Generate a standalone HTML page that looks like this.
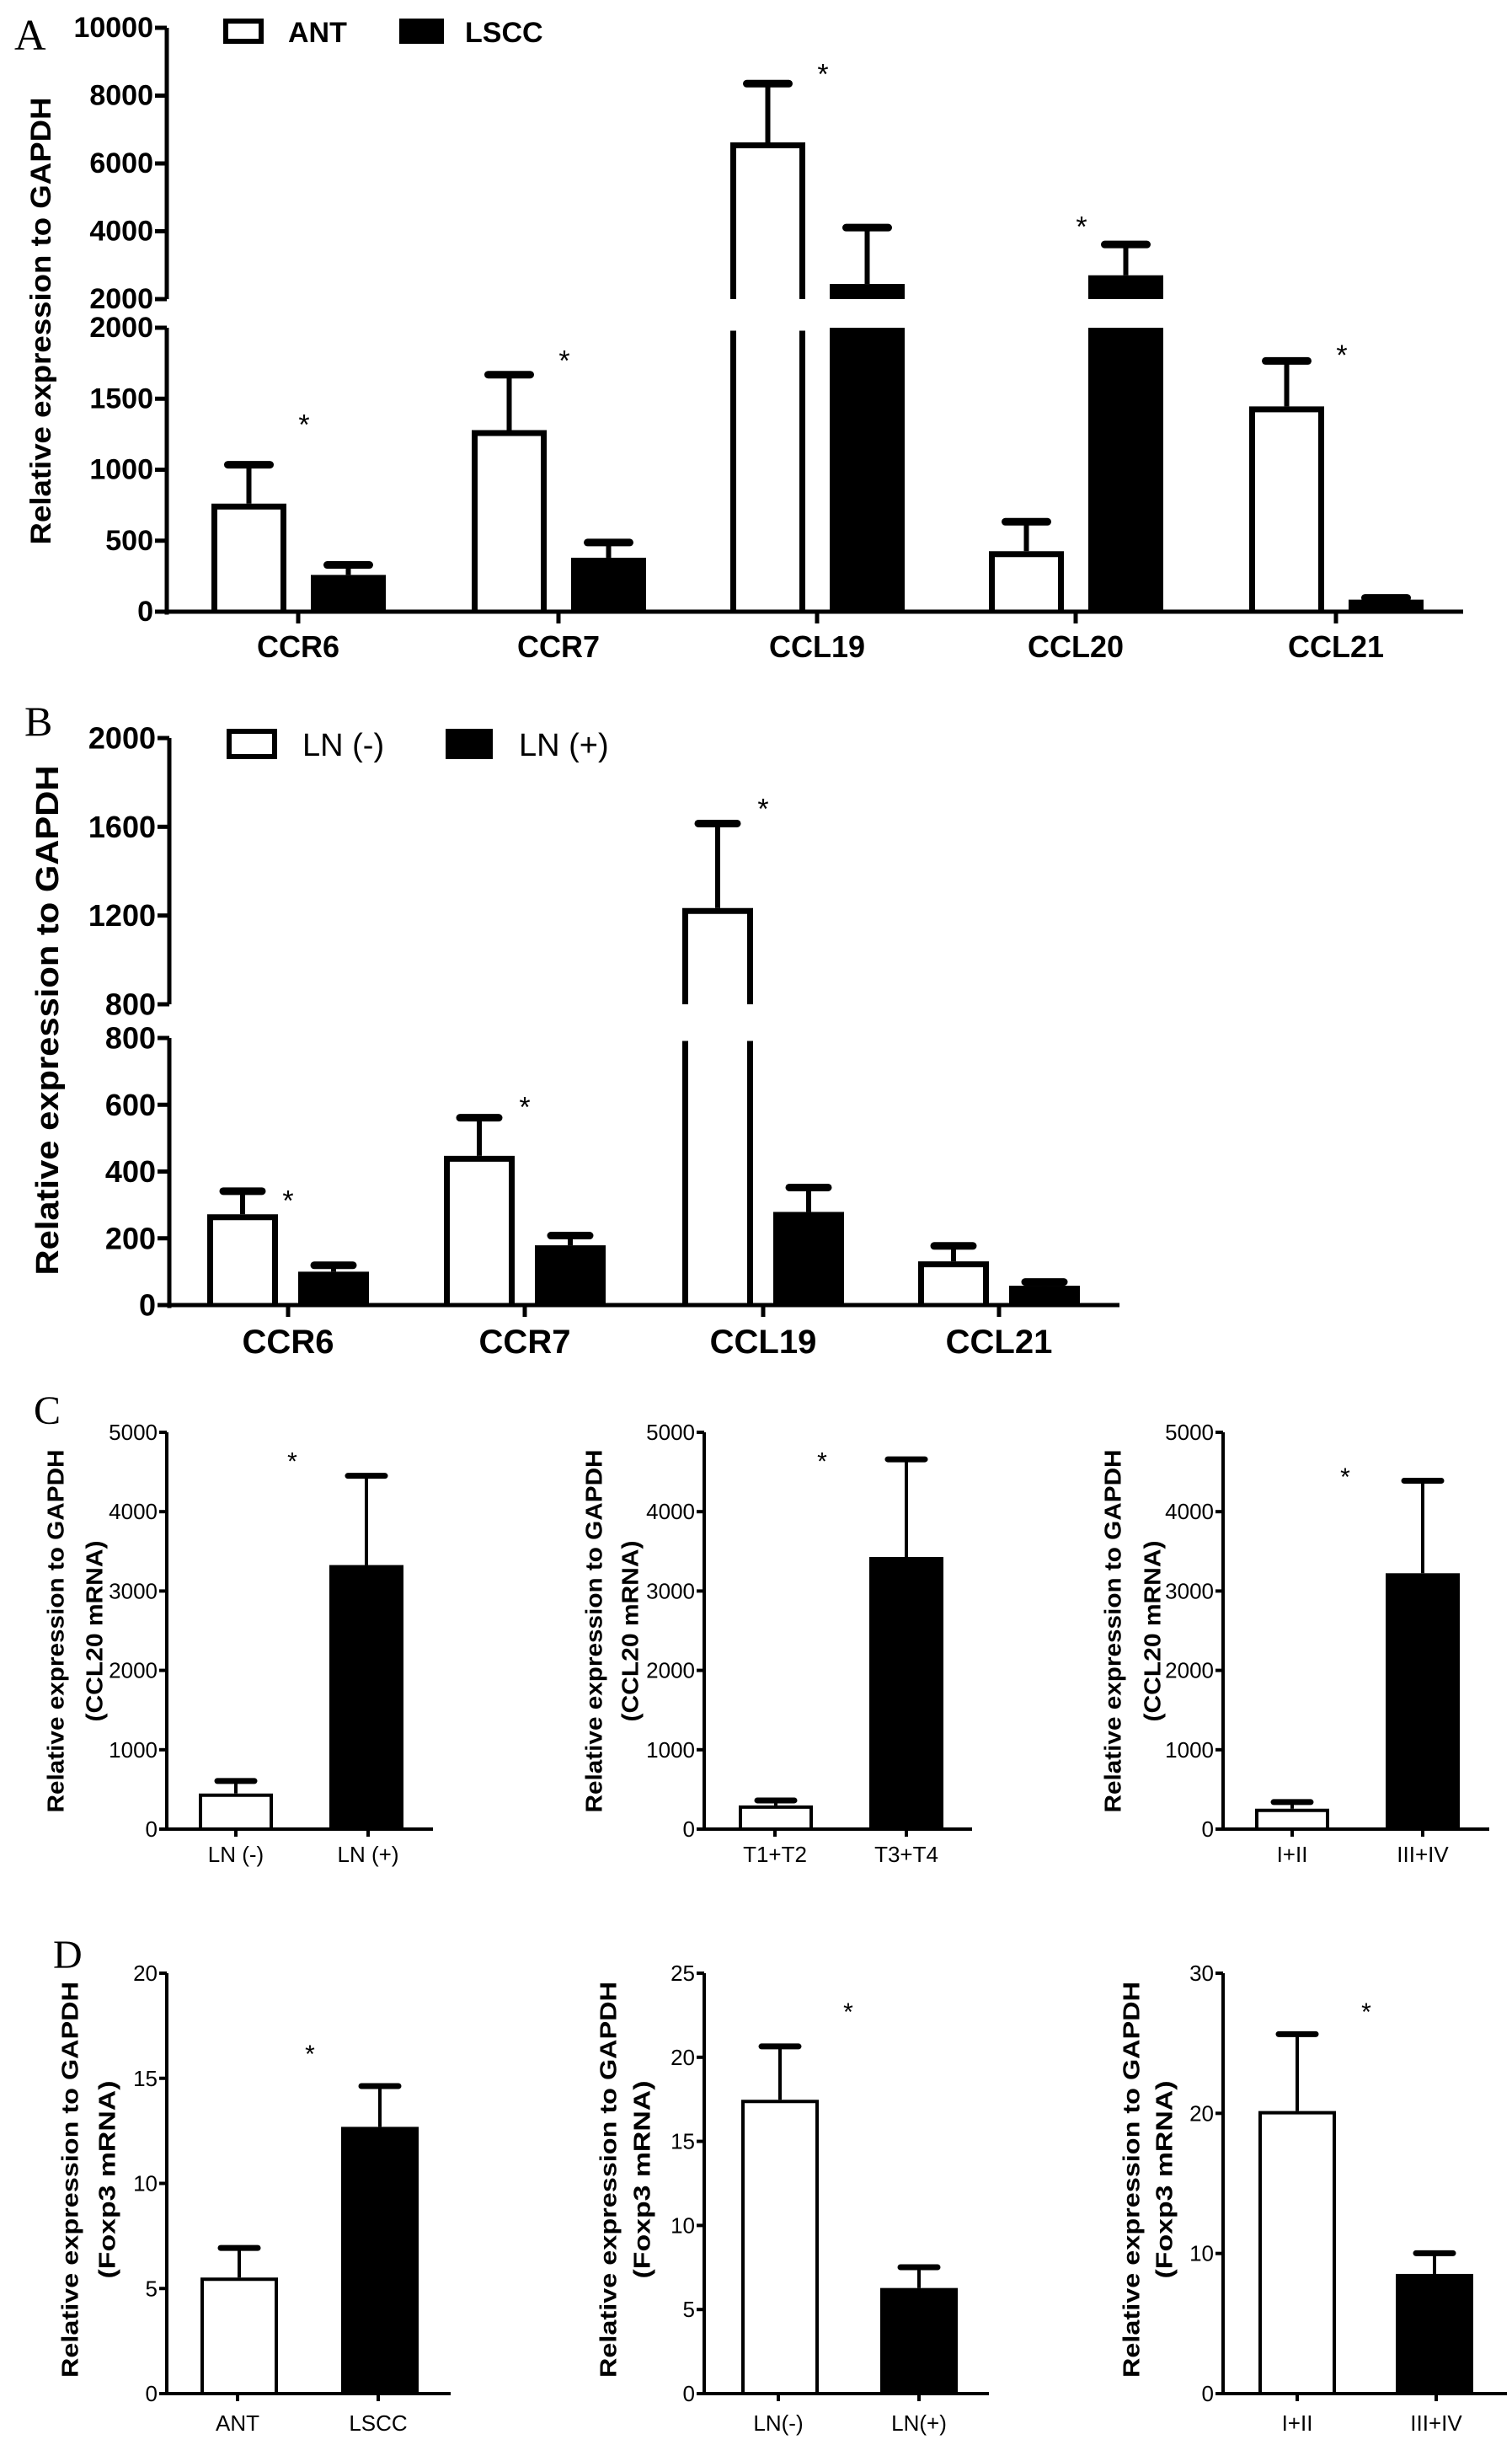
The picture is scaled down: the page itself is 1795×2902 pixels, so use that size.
<!DOCTYPE html>
<html><head><meta charset="utf-8"><style>
html,body{margin:0;padding:0;background:#fff;width:1795px;height:2902px;overflow:hidden}
svg{display:block}
text{font-family:"Liberation Sans",sans-serif;fill:#000}
</style></head><body>
<svg id="fig" width="1795" height="2902" viewBox="0 0 1795 2902" xmlns="http://www.w3.org/2000/svg">
<text x="17" y="59" font-size="52" style="font-family:'Liberation Serif',serif">A</text>
<text x="29" y="873" font-size="50" style="font-family:'Liberation Serif',serif">B</text>
<text x="40" y="1690" font-size="48" style="font-family:'Liberation Serif',serif">C</text>
<text x="63" y="2336" font-size="48" style="font-family:'Liberation Serif',serif">D</text>
</svg>
<script>
// ---------- DATA ----------
const catsA = ["CCR6","CCR7","CCL19","CCL20","CCL21"];
const antA = [761,1279,6620,426,1446];
const antErrA = [1056,1690,8440,654,1787];
const lsccA = [259,380,2446,2702,85];
const lsccErrA = [350,508,4195,3698,118];
const lowTicksA = [0,500,1000,1500,2000];
const upTicksA = [2000,4000,6000,8000,10000];

const catsB = ["CCR6","CCR7","CCL19","CCL21"];
const lnNegB = [272,447,1234,131];
const lnNegErrB = [350,570,1628,186];
const lnPosB = [100,179,279,58];
const lnPosErrB = [128,217,361,78];
const lowTicksB = [0,200,400,600,800];
const upTicksB = [800,1200,1600,2000];

const catsC1 = ["LN (-)","LN (+)"];
const valsC1 = [449,3327];
const errC1 = [633,4478];
const catsC2 = ["T1+T2","T3+T4"];
const valsC2 = [298,3429];
const errC2 = [388,4686];
const catsC3 = ["I+II","III+IV"];
const valsC3 = [257,3224];
const errC3 = [367,4416];
const ticksC = [0,1000,2000,3000,4000,5000];

const catsD1 = ["ANT","LSCC"];
const valsD1 = [5.52,12.69];
const errD1 = [7.03,14.73];
const ticksD1 = [0,5,10,15,20];
const catsD2 = ["LN(-)","LN(+)"];
const valsD2 = [17.47,6.28];
const errD2 = [20.77,7.64];
const ticksD2 = [0,5,10,15,20,25];
const catsD3 = ["I+II","III+IV"];
const valsD3 = [20.16,8.54];
const errD3 = [25.8,10.17];
const ticksD3 = [0,10,20,30];

// ---------- DRAW ----------
const svg = document.getElementById('fig');
const NS = 'http://www.w3.org/2000/svg';
function mk(tag, attrs, parent){
  const e = document.createElementNS(NS, tag);
  for (const k in attrs) e.setAttribute(k, attrs[k]);
  (parent||svg).appendChild(e);
  return e;
}
function txt(s, x, y, size, opts, parent){
  const t = mk('text', {x:x, y:y, 'font-size':size}, parent);
  if (opts.anchor) t.setAttribute('text-anchor', opts.anchor);
  if (opts.bold) t.setAttribute('font-weight','bold');
  if (opts.family) t.style.fontFamily = opts.family;
  if (opts.base) t.setAttribute('dominant-baseline', opts.base);
  if (opts.len) { t.setAttribute('textLength', opts.len); t.setAttribute('lengthAdjust','spacingAndGlyphs'); }
  t.textContent = s;
  return t;
}
function yMap(segs, v){
  for (let i=0;i<segs.length;i++){
    const s=segs[i];
    if (v<=s.max || i===segs.length-1) return s.yb - (Math.min(v,s.max)-s.min)/(s.max-s.min)*(s.yb-s.yt);
  }
}
function drawChart(c){
  const g = mk('g', {});
  
  
  const sw = c.sw;
  c.segs.forEach((s, si) => {
    const ax = mk('line', {x1:c.ax, x2:c.ax, y1:s.yb+(si===0?sw/2:0), y2:s.yt, stroke:'#000','stroke-width':c.asw}, g);
    
    
    s.ticks.forEach(tv => {
      const y = s.yb - (tv-s.min)/(s.max-s.min)*(s.yb-s.yt);
      mk('line', {x1:c.ax-c.tickLen, x2:c.ax, y1:y, y2:y, stroke:'#000','stroke-width':c.asw}, g);
      const t = txt(String(tv), c.ax-c.tickLen-2, y, c.tickSize, {anchor:'end', bold:c.tickBold, base:'central', family:c.tickFamily}, g);
      
      
    });
  });
  const y0 = c.segs[0].yb;
  const xa = mk('line', {x1:c.ax-c.asw/2, x2:c.xEnd, y1:y0, y2:y0, stroke:'#000','stroke-width':c.asw}, g);
  
  
  c.cats.forEach((cat, i) => {
    const cx = c.cx[i];
    mk('line', {x1:cx, x2:cx, y1:y0, y2:y0+c.tickLen, stroke:'#000','stroke-width':c.asw}, g);
    const t = txt(cat, cx, c.catY, c.catSize, {anchor:'middle', bold:c.catBold, family:c.catFamily}, g);
    
    
    c.series.forEach((ser, si) => {
      const v = ser.vals[i], e = ser.errs[i];
      if (v === undefined || e === undefined) return;
      const x1 = cx + ser.off, x2 = x1 + c.bw;
      c.segs.forEach(s => {
        if (v <= s.min) return;
        const yb = s.yb, yt = s.yb - (Math.min(v,s.max)-s.min)/(s.max-s.min)*(s.yb-s.yt);
        if (ser.fill) {
          const r = mk('rect', {x:x1, y:yt, width:c.bw, height:yb-yt, fill:'#000'}, g);
          
          
        } else {
          const h = sw/2;
          let d = 'M'+(x1+h)+','+yb+' L'+(x1+h)+','+(yt+h);
          if (v <= s.max) d += ' L'+(x2-h)+','+(yt+h);
          else d += ' M'+(x2-h)+','+(yt+h);
          d += ' L'+(x2-h)+','+yb;
          const p = mk('path', {d:d, fill:'none', stroke:'#000','stroke-width':sw}, g);
          
          
        }
      });
      const ym = yMap(c.segs, v), ye = yMap(c.segs, e);
      const ex = (x1+x2)/2;
      const el = mk('line', {x1:ex, x2:ex, y1:ym, y2:ye, stroke:'#000','stroke-width':c.esw}, g);
      
      
      mk('line', {x1:ex-c.capW/2, x2:ex+c.capW/2, y1:ye+c.capH/2-1, y2:ye+c.capH/2-1, stroke:'#000','stroke-width':c.capH,'stroke-linecap':'round'}, g);
    });
    if (c.stars && c.stars[i] > 0) {
      const st = txt('*', c.cx[i]+c.starDx, yMap(c.segs, c.stars[i]) + 22, c.starSize, {anchor:'middle', family:c.catFamily}, g);
      
      
    }
  });
  c.titles.forEach(tt => {
    const t = txt(tt.s, 0, 0, tt.size, {anchor:'middle', bold:true, base:'central', len:tt.len}, g);
    t.setAttribute('transform', 'translate('+tt.x+','+tt.y+') rotate(-90)');
    
    
  });
  return g;
}
const NARROW = '"Liberation Sans Narrow","Liberation Sans",sans-serif';

// Panel A
drawChart({name:'panel-a-chart', ax:198, xEnd:1737, sw:7, asw:5, esw:6, tickLen:14,
  segs:[{min:0,max:2000,yb:726,yt:389,ticks:lowTicksA},{min:2000,max:10000,yb:355,yt:33,ticks:upTicksA}],
  tickSize:34, tickBold:true, tickFamily:NARROW,
  cats:catsA, cx:[354,663,970,1277,1586], catY:780, catSize:36, catBold:true, catFamily:NARROW,
  bw:89, capW:50, capH:9,
  series:[{key:'ant', vals:antA, errs:antErrA, off:-103, fill:false},{key:'lscc', vals:lsccA, errs:lsccErrA, off:15, fill:true}],
  stars:[1380,1830,8900,4400,1870], starDx:7, starSize:34,
  titles:[{s:'Relative expression to GAPDH', x:49, y:381, size:34, len:531}]
});
mk('rect',{x:268,y:25,width:42,height:24,fill:'none',stroke:'#000','stroke-width':6,});
txt('ANT',342,50,34,{bold:true,family:NARROW});
mk('rect',{x:474,y:22,width:53,height:30,fill:'#000',});
txt('LSCC',552,50,34,{bold:true,family:NARROW});

// Panel B
drawChart({name:'panel-b-chart', ax:201, xEnd:1329, sw:7, asw:5, esw:6, tickLen:14,
  segs:[{min:0,max:800,yb:1549,yt:1232,ticks:lowTicksB},{min:800,max:2000,yb:1192,yt:876,ticks:upTicksB}],
  tickSize:36, tickBold:true, tickFamily:NARROW,
  cats:catsB, cx:[342,623,906,1186], catY:1606, catSize:40, catBold:true, catFamily:NARROW,
  bw:84, capW:46, capH:9,
  series:[{key:'ln-neg', vals:lnNegB, errs:lnNegErrB, off:-96, fill:false},{key:'ln-pos', vals:lnPosB, errs:lnPosErrB, off:12, fill:true}],
  stars:[340,620,1720,0], starDx:0, starSize:34,
  titles:[{s:'Relative expression to GAPDH', x:57, y:1211, size:38, len:605}]
});
mk('rect',{x:272,y:868,width:54,height:30,fill:'none',stroke:'#000','stroke-width':6,});
txt('LN (-)',359,897,38,{family:NARROW});
mk('rect',{x:529,y:865,width:56,height:36,fill:'#000',});
txt('LN (+)',616,897,38,{family:NARROW});

// Panel C & D
function small(name, ax, xEnd, cx, cats, vals, errs, ticks, max, yb, yt, star, starY, titleX1, titleX2, t2, tcy, tlen1, tlen2, catY, offs, bw){
  drawChart({name:name, ax:ax, xEnd:xEnd, sw:4, asw:4, esw:4, tickLen:9,
    segs:[{min:0,max:max,yb:yb,yt:yt,ticks:ticks}],
    tickSize:26, tickBold:false, tickFamily:NARROW,
    cats:cats, cx:cx, catY:catY, catSize:26, catBold:false, catFamily:NARROW,
    bw:bw, capW:44, capH:7,
    series:[{key:'low', vals:[vals[0]], errs:[errs[0]], off:offs[0], fill:false}],
    stars:null,
    titles:[{s:'Relative expression to GAPDH', x:titleX1, y:tcy, size:28, len:tlen1},{s:t2, x:titleX2, y:tcy, size:28, len:tlen2}]
  });
  const cx2 = cx[1], v = vals[1], e = errs[1];
  const y = yb - v/max*(yb-yt), ye = yb - e/max*(yb-yt);
  const r = mk('rect',{x:cx2+offs[1], y:y, width:bw, height:yb-y, fill:'#000'});
  
  
  const ex = cx2+offs[1]+bw/2;
  mk('line',{x1:ex,x2:ex,y1:y,y2:ye,stroke:'#000','stroke-width':4});
  mk('line',{x1:ex-22,x2:ex+22,y1:ye+2.5,y2:ye+2.5,stroke:'#000','stroke-width':7,'stroke-linecap':'round'});
  const st = txt('*', star, yb - starY/max*(yb-yt)+16, 30, {anchor:'middle', family:NARROW});
  
  
}
small('panel-c1-chart',198,514,[280,437],catsC1,valsC1,errC1,ticksC,5000,2171,1700,347,4700,66,112,'(CCL20 mRNA)',1936,431,215,2210,[-44,-46],88);
small('panel-c2-chart',836,1154,[920,1076],catsC2,valsC2,errC2,ticksC,5000,2171,1700,976,4700,705,748,'(CCL20 mRNA)',1936,431,215,2210,[-43,-44],88);
small('panel-c3-chart',1452,1768,[1534,1689],catsC3,valsC3,errC3,ticksC,5000,2171,1700,1597,4500,1321,1368,'(CCL20 mRNA)',1936,431,215,2210,[-44,-44],88);
small('panel-d1-chart',198,535,[282,449],catsD1,valsD1,errD1,ticksD1,20,2841,2342,368,16.4,83,127,'(Foxp3 mRNA)',2587,470,235,2885,[-44,-44],92);
small('panel-d2-chart',836,1174,[924,1091],catsD2,valsD2,errD2,ticksD2,25,2841,2342,1007,23.0,722,762,'(Foxp3 mRNA)',2587,470,235,2885,[-44,-46],92);
small('panel-d3-chart',1452,1789,[1540,1705],catsD3,valsD3,errD3,ticksD3,30,2841,2342,1622,27.6,1343,1382,'(Foxp3 mRNA)',2587,470,235,2885,[-46,-48],92);
</script>
</body></html>
